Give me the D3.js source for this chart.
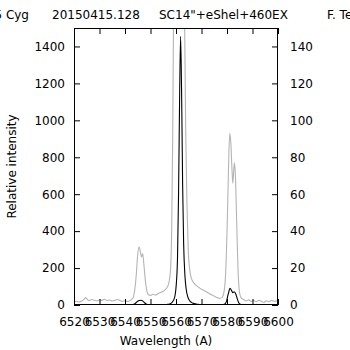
<!DOCTYPE html>
<html>
<head>
<meta charset="utf-8">
<script src="https://cdn.jsdelivr.net/npm/d3@7"></script>
<style>
  body { margin: 0; background: #fff; }
  svg { display: block; font-family: "DejaVu Sans", Verdana, sans-serif; }
</style>
</head>
<body>
<div id="chart"></div>
<script>
// title pieces
const titleParts = ['V1515 Cyg', '20150415.128', 'SC14"+eShel+460EX', 'F. Teyssier'];

// black spectrum (left axis)
const blackWl = [6520, 6530, 6540, 6542.5, 6543.5, 6544.3, 6545, 6545.6, 6546.3, 6547, 6547.7, 6548.4, 6549.5, 6552,
  6555, 6556.5, 6557.5, 6558.3, 6559, 6559.6, 6560.1, 6560.6, 6561, 6561.4, 6561.8, 6562.2, 6562.6, 6563, 6563.5,
  6564, 6564.6, 6565.3, 6566, 6567, 6568.5, 6570, 6573, 6576, 6578, 6579, 6579.8, 6580.5, 6581.2, 6581.8, 6582.3,
  6582.8, 6583.3, 6583.9, 6584.5, 6585.2, 6586.5, 6590, 6600];
const blackFlux = [0, 0, 0.5, 1, 4, 12, 20, 24, 26, 21, 12, 4, 1, 0.5,
  1.5, 3, 6, 12, 25, 50, 110, 260, 600, 1100, 1455, 1150, 650, 330, 160,
  85, 45, 24, 14, 8, 4, 2, 1, 0.5, 1, 4, 20, 60, 90, 78, 66,
  72, 64, 40, 15, 4, 1, 0.5, 0];

// grey spectrum (right axis)
const greyWl = [6520, 6521, 6522, 6523, 6524, 6524.6, 6525.3, 6526, 6527, 6528, 6529, 6530, 6531, 6532, 6533, 6534,
  6535, 6536, 6537, 6538, 6539, 6540, 6541, 6542, 6543, 6543.8, 6544.4, 6544.9, 6545.5, 6546, 6546.5, 6546.9,
  6547.4, 6548, 6548.6, 6549.2, 6550, 6551, 6552, 6553, 6554, 6555, 6555.7, 6556.5, 6557.2, 6557.8, 6558.3,
  6558.7, 6559, 6559.5, 6560.5, 6561.5, 6562.5, 6563, 6563.4, 6563.8, 6564.3, 6564.8, 6565.4, 6566, 6567, 6568,
  6569, 6570, 6571, 6572, 6573, 6574, 6575, 6576, 6577, 6578, 6578.8, 6579.5, 6580.2, 6580.7, 6581.1, 6581.5,
  6582, 6582.3, 6582.6, 6582.9, 6583.3, 6583.8, 6584.3, 6584.8, 6585.5, 6586.5, 6587.5, 6588.5, 6589.5, 6590.5,
  6591.5, 6592.5, 6593.5, 6594.5, 6595.5, 6596.5, 6597.5, 6598.5, 6599.5, 6600];
const greyFlux = [1.5, 2, 1.6, 2.2, 3.2, 4, 2.8, 2.4, 3, 2.6, 2.2, 2.8, 2.5, 3.1, 2.4, 2.7,
  2.2, 2.6, 3, 2.4, 2, 2.3, 1.9, 2.4, 3.5, 8, 16, 26, 31.5, 29, 26, 27.8,
  22, 13, 7.5, 5.5, 5.2, 5.8, 5.4, 6.2, 6.8, 7.4, 8.2, 9.5, 12, 18, 40,
  90, 150, 240, 350, 400, 330, 220, 150, 95, 55, 30, 19, 14.5, 12, 10.5,
  9.5, 8.5, 7.8, 7, 6.2, 5.5, 4.8, 4, 3.6, 4, 7, 18, 50, 80, 93, 88,
  72, 66, 72, 77, 70, 45, 20, 8, 4, 3, 2.2, 2.8, 2, 2.4,
  1.8, 2.6, 2, 1.5, 2.3, 1.8, 2.5, 2, 2.2, 1.8];

const xTicks = d3.range(6520, 6601, 10);
const leftTicks = d3.range(0, 1401, 200);
const rightTicks = d3.range(0, 141, 20);

const W = 350, H = 350;
const m = { top: 28, right: 72, bottom: 45, left: 74 };

const svg = d3.select('#chart').append('svg').attr('width', W).attr('height', H);

const x = d3.scaleLinear().domain([6520, 6600]).range([m.left, W - m.right]);
const yL = d3.scaleLinear().domain([0, 1500]).range([H - m.bottom, m.top]);
const yR = d3.scaleLinear().domain([0, 150]).range([H - m.bottom, m.top]);

svg.append('clipPath').attr('id', 'clip').append('rect')
  .attr('x', m.left).attr('y', m.top).attr('width', W - m.left - m.right).attr('height', H - m.top - m.bottom);

const plot = svg.append('g').attr('clip-path', 'url(#clip)');

const lineR = d3.line().x(d => x(d[0])).y(d => yR(d[1])).curve(d3.curveMonotoneX);
const lineL = d3.line().x(d => x(d[0])).y(d => yL(d[1])).curve(d3.curveMonotoneX);

plot.append('path').datum(d3.zip(greyWl, greyFlux)).attr('d', lineR)
  .attr('fill', 'none').attr('stroke', '#b4b4b4').attr('stroke-width', 1.1);
plot.append('path').datum(d3.zip(blackWl, blackFlux)).attr('d', lineL)
  .attr('fill', 'none').attr('stroke', '#000').attr('stroke-width', 1.1);

// axes, ticks pointing inward
const styleAxis = g => {
  g.select('.domain').remove();
  g.selectAll('line').attr('stroke', '#000');
  g.selectAll('text').attr('fill', '#000').style('font-size', '12px').style('font-family', '"DejaVu Sans", Verdana, sans-serif');
};
svg.append('g').attr('transform', `translate(${m.left},0)`)
  .call(d3.axisLeft(yL).tickValues(leftTicks).tickFormat(d3.format('d')).tickSize(-6).tickPadding(9)).call(styleAxis);
svg.append('g').attr('transform', `translate(${W - m.right},0)`)
  .call(d3.axisRight(yR).tickValues(rightTicks).tickFormat(d3.format('d')).tickSize(-6).tickPadding(12)).call(styleAxis);
svg.append('g').attr('transform', `translate(0,${H - m.bottom})`)
  .call(d3.axisBottom(x).tickValues(xTicks).tickFormat(d3.format('d')).tickSize(-6).tickPadding(12)).call(styleAxis);
svg.append('g').attr('transform', `translate(0,${m.top})`)
  .call(d3.axisTop(x).tickValues(xTicks).tickFormat('').tickSize(-6)).call(styleAxis);

svg.append('rect').attr('x', m.left + 0.5).attr('y', m.top + 0.5)
  .attr('width', W - m.left - m.right - 1).attr('height', H - m.top - m.bottom - 1)
  .attr('fill', 'none').attr('stroke', '#000');

// title
const tx = [[29, 'end'], [52, 'start'], [159, 'start'], [327, 'start']];
svg.selectAll('text.title').data(titleParts).join('text').attr('class', 'title')
  .attr('x', (d, i) => tx[i][0]).attr('y', 19).attr('text-anchor', (d, i) => tx[i][1])
  .style('font-size', '12px').text(d => d);

svg.append('text').attr('x', 166).attr('y', 345).attr('text-anchor', 'middle')
  .style('font-size', '12px').text('Wavelength (A)');
svg.append('text').attr('transform', `translate(16,${(m.top + H - m.bottom) / 2}) rotate(-90)`)
  .attr('text-anchor', 'middle').style('font-size', '12px').text('Relative intensity');
</script>
</body>
</html>
